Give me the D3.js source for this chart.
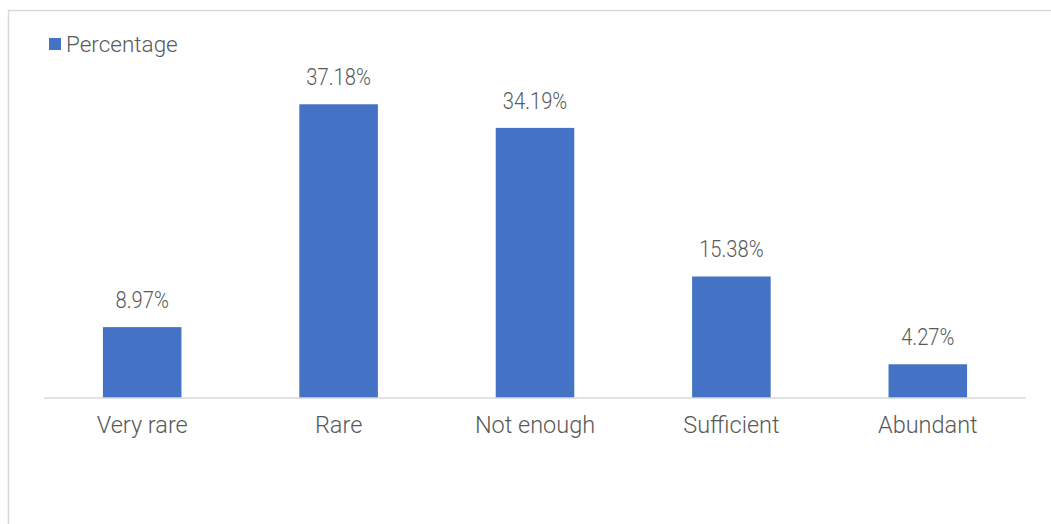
<!DOCTYPE html>
<html>
<head>
<meta charset="utf-8">
<script src="https://cdn.jsdelivr.net/npm/d3@7"></script>
<style>
  html, body { margin: 0; padding: 0; background: #fff; }
  svg { display: block; }
</style>
</head>
<body>
<svg id="chart" width="1051" height="524"></svg>
<script>
const categories = ["Very rare", "Rare", "Not enough", "Sufficient", "Abundant"];
const values = [8.97, 37.18, 34.19, 15.38, 4.27];
const valueLabels = ["8.97%", "37.18%", "34.19%", "15.38%", "4.27%"];
const seriesName = "Percentage";

const svg = d3.select("#chart");

// outer frame
svg.append("rect")
  .attr("x", 8.5).attr("y", 10.5)
  .attr("width", 1060).attr("height", 540)
  .attr("fill", "#fff").attr("stroke", "#d9d9d9").attr("stroke-width", 1.5);

const x = d3.scaleBand()
  .domain(categories)
  .range([44, 1026])
  .paddingInner(0.6)
  .paddingOuter(0.3);

const y = d3.scaleLinear().domain([0, 40]).range([398, 82]);

// bars
svg.append("g").selectAll("rect")
  .data(values)
  .join("rect")
  .attr("x", (d, i) => x(categories[i]))
  .attr("y", d => y(d))
  .attr("width", x.bandwidth())
  .attr("height", d => y(0) - y(d))
  .attr("fill", "#4472c4");

// x axis
const xAxis = d3.axisBottom(x).tickSize(0).tickPadding(0);
const gx = svg.append("g").attr("transform", `translate(0,${y(0)})`).call(xAxis);
gx.select(".domain").attr("stroke", "#d9d9d9").attr("stroke-width", 1.5).attr("d", "M44,0H1026");
gx.selectAll(".tick text")
  .attr("y", 35)
  .attr("dy", null)
  .attr("fill", "#595959")
  .style("font-family", "Roboto, 'Noto Sans', sans-serif")
  .style("font-size", "23.5px")
  .style("font-weight", "300");

// value labels
const vl = svg.append("g").selectAll("text")
  .data(values)
  .join("text")
  .attr("x", (d, i) => x(categories[i]) + x.bandwidth() / 2)
  .attr("y", d => y(d) - 19)
  .attr("text-anchor", "middle")
  .attr("fill", "#595959")
  .style("font-family", "Roboto, 'Noto Sans', sans-serif")
  .style("font-size", "24px")
  .style("font-weight", "300")
  .text((d, i) => valueLabels[i]);
vl.each(function() {
  const len = this.getComputedTextLength();
  d3.select(this).attr("textLength", len * 0.84).attr("lengthAdjust", "spacingAndGlyphs");
});

// legend
const lg = svg.append("g");
lg.append("rect").attr("x", 49).attr("y", 38).attr("width", 12).attr("height", 12).attr("fill", "#4472c4");
lg.append("text").attr("x", 66).attr("y", 52)
  .attr("fill", "#595959")
  .style("font-family", "Roboto, 'Noto Sans', sans-serif")
  .style("font-size", "22.5px")
  .style("font-weight", "300")
  .text(seriesName);
</script>
</body>
</html>
